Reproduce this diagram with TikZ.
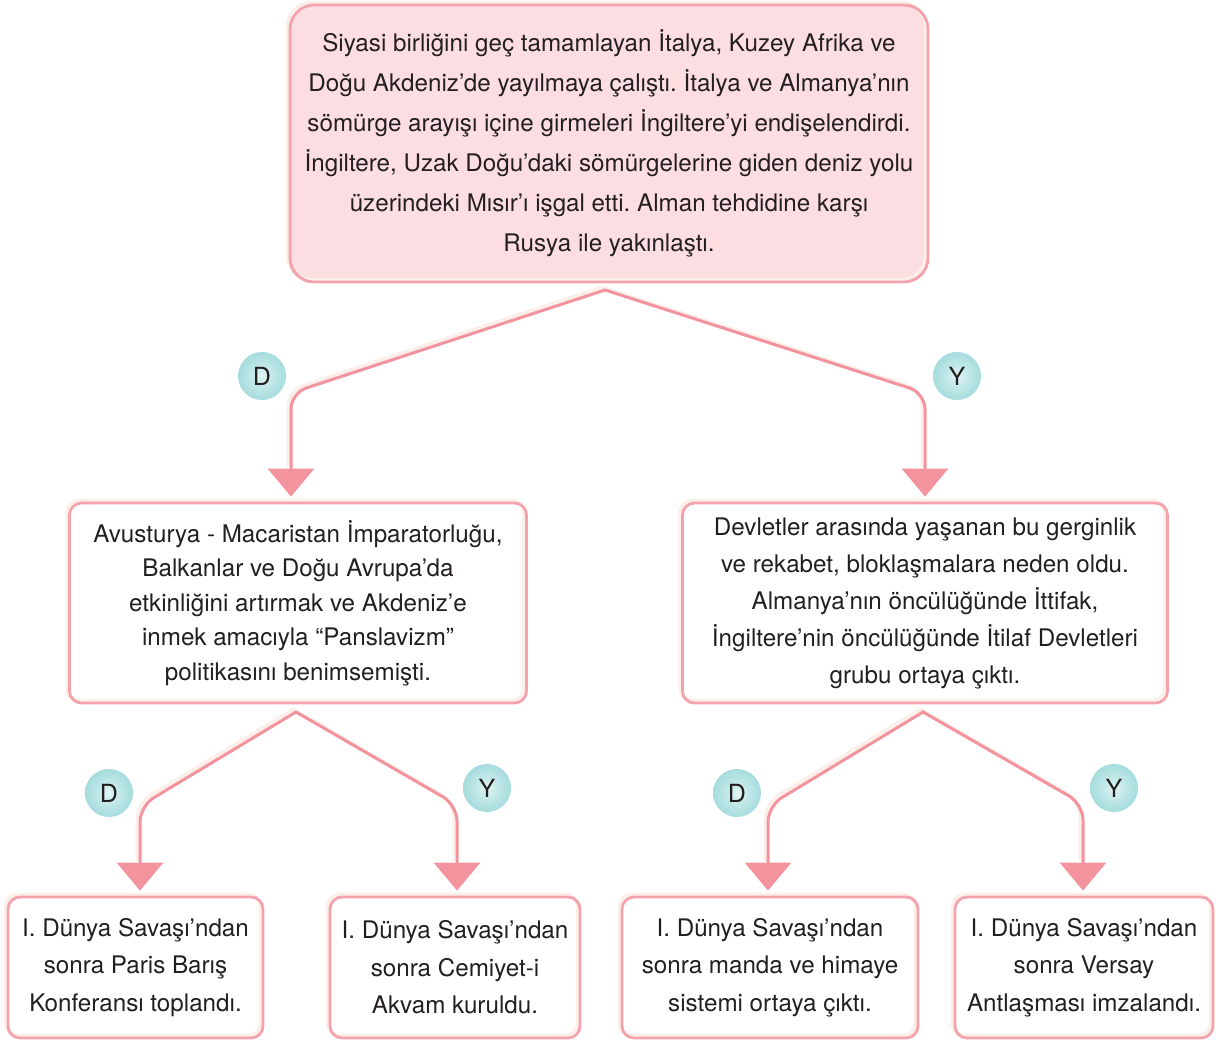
\documentclass[tikz,border=0pt]{standalone}
\usepackage{fontspec}
\setmainfont{TeX Gyre Heros}
\usetikzlibrary{arrows.meta}
\definecolor{boxpink}{HTML}{F4A3AC}
\definecolor{linkpink}{HTML}{F2939E}
\definecolor{cream}{HTML}{FCEEE8}
\definecolor{topfill}{HTML}{FCDDE1}
\definecolor{tealout}{HTML}{72C7C9}
\definecolor{tealin}{HTML}{E2F5F5}
\definecolor{ink}{HTML}{231F20}
\pgfdeclareradialshading{badgeshade}{\pgfpoint{0bp}{0bp}}{color(0bp)=(tealin); color(12bp)=(tealin!70!tealout); color(50bp)=(tealout)}
\frenchspacing
\tikzset{
  card/.style={rounded corners=6pt, draw=boxpink, line width=1.4pt,
    preaction={fill=#1},
    preaction={draw=cream, line width=1.6pt, transform canvas={shift={(-1.3pt,1.3pt)}}},
    align=center, text=ink, inner sep=0pt},
  card/.default=white,
  link/.style={draw=linkpink, line width=1.5pt, line join=miter,
    {Triangle[width=23pt,length=14pt]}-{Triangle[width=23pt,length=14pt]},
    shorten <=2.5pt, shorten >=2.5pt,
    preaction={draw=cream, line width=1.8pt, arrows=-, shorten <=16pt, shorten >=16pt,
      transform canvas={shift={(-1.3pt,1.3pt)}}}},
  badge/.style={circle, minimum size=24pt, inner sep=0pt, shading=badgeshade,
    text=ink, font=\fontsize{12.5}{14}\selectfont}
}
\begin{document}
\begin{tikzpicture}[x=0.5pt,y=-0.5pt]
\useasboundingbox (0,0) rectangle (1221,1045);
\node[card=topfill, rounded corners=12pt, minimum width=319pt, minimum height=138.5pt, font=\fontsize{12.1}{20}\selectfont] (top) at (609,143.5)
  {Siyasi birliğini geç tamamlayan İtalya, Kuzey Afrika ve\\
   Doğu Akdeniz’de yayılmaya çalıştı. İtalya ve Almanya’nın\\
   sömürge arayışı içine girmeleri İngiltere’yi endişelendirdi.\\
   İngiltere, Uzak Doğu’daki sömürgelerine giden deniz yolu\\
   üzerindeki Mısır’ı işgal etti. Alman tehdidine karşı\\
   Rusya ile yakınlaştı.};
\node[card, minimum width=228.5pt, minimum height=100pt, font=\fontsize{12.1}{17.25}\selectfont] (midL) at (298,603)
  {Avusturya - Macaristan İmparatorluğu,\\
   Balkanlar ve Doğu Avrupa’da\\
   etkinliğini artırmak ve Akdeniz’e\\
   inmek amacıyla “Panslavizm”\\
   politikasını benimsemişti.};
\node[card, minimum width=242.5pt, minimum height=100pt, font=\fontsize{12.1}{18.5}\selectfont] (midR) at (925,603)
  {Devletler arasında yaşanan bu gerginlik\\
   ve rekabet, bloklaşmalara neden oldu.\\
   Almanya’nın öncülüğünde İttifak,\\
   İngiltere’nin öncülüğünde İtilaf Devletleri\\
   grubu ortaya çıktı.};
\node[card, minimum width=127.5pt, minimum height=70.5pt, font=\fontsize{12.1}{18.75}\selectfont] (botA) at (135.5,967.5)
  {I. Dünya Savaşı’ndan\\ sonra Paris Barış\\ Konferansı toplandı.};
\node[card, minimum width=125pt, minimum height=70.5pt, font=\fontsize{12.1}{18.75}\selectfont] (botB) at (455,967.5)
  {I. Dünya Savaşı’ndan\\ sonra Cemiyet-i\\ Akvam kuruldu.};
\node[card, minimum width=148pt, minimum height=70.5pt, font=\fontsize{12.1}{18.75}\selectfont] (botC) at (770,967.5)
  {I. Dünya Savaşı’ndan\\ sonra manda ve himaye\\ sistemi ortaya çıktı.};
\node[card, minimum width=129pt, minimum height=70.5pt, font=\fontsize{12.1}{18.75}\selectfont] (botD) at (1084,967.5)
  {I. Dünya Savaşı’ndan\\ sonra Versay\\ Antlaşması imzalandı.};
\coordinate (forkA) at (605,290);
\coordinate (cornerAL) at (291,393);
\coordinate (cornerAR) at (925,393);
\coordinate (forkB) at (296,712);
\coordinate (cornerBL) at (140,806);
\coordinate (cornerBR) at (457,805);
\coordinate (forkC) at (923,712);
\coordinate (cornerCL) at (768,806);
\coordinate (cornerCR) at (1083,804);
\draw[link] (cornerAL |- midL.north) [rounded corners=8pt] -- (cornerAL) [sharp corners] -- (forkA) [rounded corners=8pt] -- (cornerAR) -- (cornerAR |- midR.north);
\draw[link] (cornerBL |- botA.north) [rounded corners=8pt] -- (cornerBL) [sharp corners] -- (forkB) [rounded corners=8pt] -- (cornerBR) -- (cornerBR |- botB.north);
\draw[link] (cornerCL |- botC.north) [rounded corners=8pt] -- (cornerCL) [sharp corners] -- (forkC) [rounded corners=8pt] -- (cornerCR) -- (cornerCR |- botD.north);
\node[badge] (dA) at (262,376) {D};
\node[badge] (yA) at (957,376) {Y};
\node[badge] (dB) at (109,793) {D};
\node[badge] (yB) at (487,788) {Y};
\node[badge] (dC) at (737,793) {D};
\node[badge] (yC) at (1114,788) {Y};
\end{tikzpicture}
\end{document}
